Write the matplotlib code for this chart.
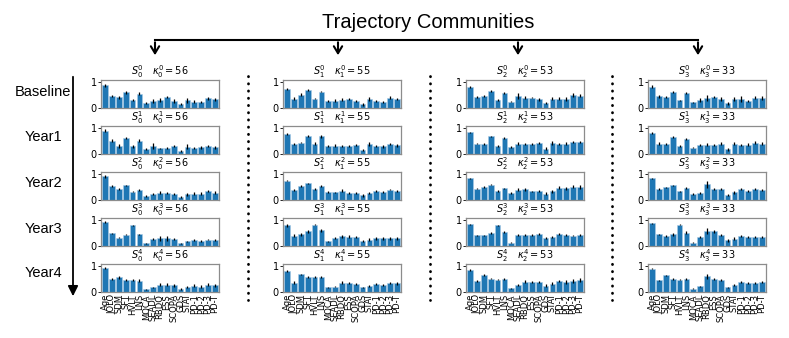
import numpy as np
import matplotlib.pyplot as plt
from matplotlib.lines import Line2D
from matplotlib.patches import FancyArrowPatch

# Features (x-axis)
features = ['Age', 'JOLO', 'SDM', 'SFT', 'HVLT', 'LNS', 'MOCA', 'SEADL', 'RBDQ',
            'ESS', 'SCOPA', 'GDS', 'STAI', 'PD-1', 'PD-2', 'PD-3', 'PD-T']
years = ['Baseline', 'Year1', 'Year2', 'Year3', 'Year4']
counts = [56, 55, 53, 33]

# Mean values, community 0 (rows = years)
means_c0 = [
    [0.87, 0.47, 0.42, 0.60, 0.30, 0.55, 0.20, 0.28, 0.30, 0.42, 0.27, 0.15, 0.30, 0.25, 0.23, 0.37, 0.33],
    [0.90, 0.52, 0.30, 0.60, 0.30, 0.52, 0.20, 0.30, 0.22, 0.23, 0.30, 0.12, 0.28, 0.22, 0.26, 0.32, 0.26],
    [0.91, 0.53, 0.42, 0.56, 0.32, 0.38, 0.17, 0.22, 0.28, 0.26, 0.23, 0.11, 0.22, 0.25, 0.25, 0.34, 0.28],
    [0.93, 0.50, 0.32, 0.44, 0.80, 0.46, 0.10, 0.26, 0.29, 0.29, 0.27, 0.10, 0.18, 0.22, 0.20, 0.25, 0.23],
    [0.93, 0.50, 0.57, 0.45, 0.45, 0.43, 0.10, 0.18, 0.28, 0.28, 0.26, 0.11, 0.20, 0.25, 0.20, 0.28, 0.26],
]
means_c1 = [
    [0.75, 0.36, 0.52, 0.70, 0.36, 0.63, 0.28, 0.28, 0.32, 0.35, 0.26, 0.15, 0.35, 0.27, 0.22, 0.40, 0.35],
    [0.78, 0.40, 0.44, 0.71, 0.40, 0.68, 0.32, 0.32, 0.32, 0.30, 0.35, 0.16, 0.37, 0.30, 0.30, 0.38, 0.33],
    [0.75, 0.38, 0.54, 0.64, 0.42, 0.53, 0.31, 0.29, 0.36, 0.26, 0.27, 0.18, 0.28, 0.33, 0.30, 0.40, 0.35],
    [0.80, 0.40, 0.45, 0.56, 0.82, 0.60, 0.18, 0.30, 0.38, 0.36, 0.33, 0.18, 0.25, 0.30, 0.29, 0.30, 0.30],
    [0.82, 0.36, 0.68, 0.58, 0.57, 0.58, 0.18, 0.20, 0.36, 0.33, 0.30, 0.18, 0.24, 0.30, 0.26, 0.33, 0.33],
]
means_c2 = [
    [0.80, 0.43, 0.47, 0.65, 0.30, 0.58, 0.25, 0.47, 0.40, 0.40, 0.33, 0.18, 0.36, 0.36, 0.35, 0.50, 0.48],
    [0.83, 0.40, 0.39, 0.68, 0.30, 0.60, 0.27, 0.40, 0.39, 0.39, 0.44, 0.20, 0.43, 0.39, 0.40, 0.47, 0.46],
    [0.83, 0.43, 0.50, 0.58, 0.35, 0.45, 0.27, 0.40, 0.41, 0.33, 0.35, 0.25, 0.33, 0.48, 0.45, 0.52, 0.50],
    [0.84, 0.42, 0.42, 0.50, 0.80, 0.53, 0.13, 0.42, 0.42, 0.43, 0.48, 0.30, 0.35, 0.45, 0.42, 0.40, 0.44],
    [0.85, 0.42, 0.65, 0.52, 0.48, 0.50, 0.15, 0.28, 0.40, 0.40, 0.38, 0.25, 0.32, 0.42, 0.38, 0.42, 0.45],
]
means_c3 = [
    [0.82, 0.45, 0.43, 0.60, 0.30, 0.57, 0.22, 0.32, 0.40, 0.43, 0.35, 0.18, 0.35, 0.35, 0.27, 0.40, 0.40],
    [0.80, 0.40, 0.38, 0.65, 0.30, 0.58, 0.25, 0.34, 0.36, 0.33, 0.40, 0.18, 0.40, 0.35, 0.36, 0.43, 0.40],
    [0.83, 0.42, 0.50, 0.56, 0.34, 0.47, 0.23, 0.26, 0.60, 0.44, 0.42, 0.21, 0.29, 0.43, 0.35, 0.41, 0.38],
    [0.87, 0.45, 0.40, 0.45, 0.82, 0.52, 0.13, 0.35, 0.58, 0.56, 0.42, 0.22, 0.28, 0.38, 0.33, 0.35, 0.35],
    [0.90, 0.45, 0.65, 0.50, 0.48, 0.50, 0.13, 0.22, 0.60, 0.50, 0.45, 0.18, 0.26, 0.40, 0.34, 0.34, 0.37],
]

# Error bar half-lengths
errs_c0 = [
    [0.07, 0.05, 0.06, 0.05, 0.03, 0.05, 0.03, 0.08, 0.07, 0.03, 0.06, 0.05, 0.09, 0.06, 0.05, 0.06, 0.07],
    [0.06, 0.05, 0.08, 0.04, 0.05, 0.07, 0.04, 0.12, 0.03, 0.03, 0.03, 0.05, 0.10, 0.04, 0.05, 0.04, 0.05],
    [0.06, 0.04, 0.05, 0.03, 0.03, 0.05, 0.04, 0.04, 0.06, 0.04, 0.04, 0.04, 0.06, 0.05, 0.06, 0.05, 0.05],
    [0.03, 0.02, 0.02, 0.02, 0.02, 0.02, 0.01, 0.04, 0.08, 0.08, 0.05, 0.02, 0.03, 0.04, 0.03, 0.03, 0.03],
    [0.05, 0.05, 0.05, 0.04, 0.04, 0.06, 0.02, 0.03, 0.06, 0.05, 0.05, 0.03, 0.05, 0.05, 0.06, 0.05, 0.05],
]
errs_c1 = [
    [0.04, 0.05, 0.04, 0.04, 0.03, 0.03, 0.04, 0.06, 0.05, 0.03, 0.04, 0.06, 0.07, 0.05, 0.04, 0.05, 0.05],
    [0.03, 0.04, 0.03, 0.04, 0.05, 0.05, 0.04, 0.06, 0.04, 0.04, 0.04, 0.05, 0.08, 0.04, 0.05, 0.04, 0.05],
    [0.02, 0.03, 0.02, 0.03, 0.03, 0.03, 0.03, 0.02, 0.05, 0.03, 0.04, 0.05, 0.04, 0.04, 0.03, 0.03, 0.03],
    [0.05, 0.05, 0.06, 0.06, 0.02, 0.07, 0.03, 0.04, 0.06, 0.05, 0.04, 0.04, 0.04, 0.06, 0.05, 0.05, 0.05],
    [0.03, 0.06, 0.03, 0.03, 0.03, 0.04, 0.02, 0.02, 0.05, 0.04, 0.04, 0.03, 0.03, 0.04, 0.04, 0.04, 0.05],
]
errs_c2 = [
    [0.04, 0.03, 0.03, 0.04, 0.03, 0.03, 0.03, 0.12, 0.05, 0.03, 0.05, 0.04, 0.07, 0.06, 0.07, 0.08, 0.07],
    [0.03, 0.03, 0.04, 0.03, 0.03, 0.04, 0.02, 0.07, 0.05, 0.04, 0.04, 0.06, 0.09, 0.04, 0.05, 0.04, 0.05],
    [0.02, 0.02, 0.03, 0.02, 0.03, 0.03, 0.02, 0.05, 0.05, 0.03, 0.03, 0.07, 0.07, 0.05, 0.06, 0.07, 0.08],
    [0.02, 0.02, 0.02, 0.03, 0.02, 0.03, 0.02, 0.03, 0.03, 0.03, 0.04, 0.03, 0.03, 0.04, 0.04, 0.03, 0.04],
    [0.03, 0.03, 0.03, 0.03, 0.03, 0.04, 0.02, 0.04, 0.05, 0.04, 0.04, 0.06, 0.06, 0.05, 0.07, 0.07, 0.08],
]
errs_c3 = [
    [0.05, 0.05, 0.04, 0.04, 0.02, 0.03, 0.03, 0.08, 0.12, 0.03, 0.08, 0.05, 0.09, 0.10, 0.04, 0.07, 0.08],
    [0.03, 0.05, 0.04, 0.04, 0.04, 0.05, 0.03, 0.05, 0.06, 0.04, 0.05, 0.05, 0.07, 0.05, 0.05, 0.06, 0.06],
    [0.02, 0.03, 0.02, 0.02, 0.02, 0.03, 0.03, 0.03, 0.12, 0.04, 0.04, 0.04, 0.04, 0.04, 0.03, 0.04, 0.04],
    [0.03, 0.03, 0.04, 0.06, 0.02, 0.04, 0.02, 0.04, 0.12, 0.07, 0.05, 0.05, 0.05, 0.05, 0.04, 0.04, 0.04],
    [0.03, 0.03, 0.02, 0.03, 0.03, 0.03, 0.03, 0.02, 0.08, 0.04, 0.04, 0.03, 0.03, 0.04, 0.04, 0.04, 0.04],
]

means = [means_c0, means_c1, means_c2, means_c3]
errs = [errs_c0, errs_c1, errs_c2, errs_c3]

W, H = 789, 338
fig = plt.figure(figsize=(W / 100, H / 100), dpi=100)

def fx(px):
    return px / W

def fy(py):
    return 1 - py / H

col_left = [101, 283, 466, 648]
row_top = [80, 126, 172, 218, 264]
ax_w, ax_h = 118, 28

x = np.arange(len(features))
for c in range(4):
    for r in range(5):
        ax = fig.add_axes([fx(col_left[c]), fy(row_top[r] + ax_h), ax_w / W, ax_h / H])
        ax.bar(x, means[c][r], width=0.85, color='#1f77b4', edgecolor='#a9cbe6', linewidth=0.4)
        ax.errorbar(x, means[c][r], yerr=errs[c][r], fmt='none', ecolor='black',
                    elinewidth=0.9, capsize=0)
        ax.set_xlim(-0.6, len(features) - 0.4)
        ax.set_ylim(0, 1.08)
        ax.set_yticks([0, 1])
        ax.set_yticklabels(['0', '1'], fontsize=7)
        ax.set_xticks(x)
        if r == 4:
            ax.set_xticklabels(features, rotation=90, fontsize=6)
        else:
            ax.set_xticklabels([])
        ax.tick_params(axis='y', length=2, width=0.6, pad=1)
        ax.tick_params(axis='x', length=0, pad=1.5)
        for sp in ax.spines.values():
            sp.set_color('#8c8c8c')
            sp.set_linewidth(0.9)
        ax.set_title(r'$S_{%d}^{%d}\quad\kappa_{%d}^{%d}=%d$' % (c, r, c, r, counts[c]),
                     fontsize=7, pad=1)

# row labels and vertical arrow
row_label_y = [92, 137, 183, 229, 273]
for lab, yy in zip(years, row_label_y):
    fig.text(fx(43), fy(yy), lab, ha='center', va='center', fontsize=10.5,
             family='Liberation Sans')
fig.add_artist(FancyArrowPatch((fx(73), fy(74)), (fx(73), fy(299)), transform=fig.transFigure,
                               arrowstyle='-|>,head_length=6,head_width=3', lw=1.3,
                               color='black', mutation_scale=1))

# dotted separators
for xx in [248, 430, 612]:
    fig.add_artist(Line2D([fx(xx), fx(xx)], [fy(76), fy(300)], transform=fig.transFigure,
                          color='black', lw=2, linestyle=(0, (0.1, 2.5)),
                          dash_capstyle='round'))

# top title and arrows
fig.text(fx(428), fy(22), 'Trajectory Communities', ha='center', va='center',
         fontsize=14.5, family='Liberation Sans')
fig.add_artist(Line2D([fx(155), fx(698)], [fy(40), fy(40)], transform=fig.transFigure,
                      color='black', lw=1.5))
for xx in [155, 338, 518, 698]:
    fig.add_artist(FancyArrowPatch((fx(xx), fy(39.5)), (fx(xx), fy(58)), transform=fig.transFigure,
                                   arrowstyle='->,head_length=5,head_width=3', lw=1.5,
                                   color='black', mutation_scale=1))

fig.savefig('out.png', dpi=100)
